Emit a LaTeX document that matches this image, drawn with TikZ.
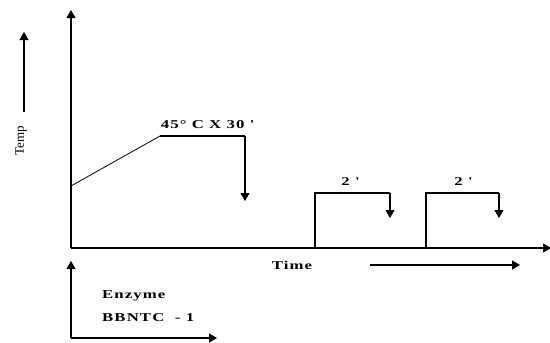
\documentclass[tikz,border=0pt]{standalone}
\usepackage{fontspec}
\setmainfont{Liberation Serif}
\newfontfamily\lblfont[FakeStretch=1.4,LetterSpace=9]{Liberation Serif}
\usetikzlibrary{arrows.meta}
\begin{document}
\begin{tikzpicture}[x=1pt,y=-1pt,
  ln/.style={line width=1.1pt},
  arr/.style={ln,-{Triangle[width=9pt,length=8pt]}},
  lbl/.style={font=\lblfont\fontsize{12}{13}\selectfont\bfseries, inner sep=0pt}]
\useasboundingbox (0,0) rectangle (550,343);
% axes
\coordinate (O) at (71,248);
\coordinate (Ytop) at (71,10);
\coordinate (Xend) at (551,248);
\draw[arr] (O) -- (Ytop);
\draw[arr] (O) -- (Xend);
% Temp label and arrow
\coordinate (ta) at (24,112);
\coordinate (tb) at (24,32);
\draw[arr] (ta) -- (tb);
\node[rotate=90, font=\fontsize{13}{14}\selectfont, inner sep=0pt] (temp) at (21,141) {Temp};
% ramp and hold
\coordinate (r0) at (71,186);
\coordinate (r1) at (160,136);
\coordinate (r2) at (245,136);
\coordinate (r3) at (245,201);
\draw[line width=0.8pt] (r0) -- (r1);
\draw[ln] (r1) -- (r2);
\draw[arr] (r2) -- (r3);
\node[lbl] (hold) at (207,125) {45° C X 30 \textquotesingle};
% pulse 1
\coordinate (p1a) at (315,248);
\coordinate (p1b) at (315,193);
\coordinate (p1c) at (390,193);
\coordinate (p1d) at (390,218);
\draw[ln] (p1a) -- (p1b) -- (p1c);
\draw[arr] (p1c) -- (p1d);
\node[lbl] (two1) at (350,182) {2 \textquotesingle};
% pulse 2
\coordinate (p2a) at (426,248);
\coordinate (p2b) at (426,193);
\coordinate (p2c) at (499,193);
\coordinate (p2d) at (499,218);
\draw[ln] (p2a) -- (p2b) -- (p2c);
\draw[arr] (p2c) -- (p2d);
\node[lbl] (two2) at (463,182) {2 \textquotesingle};
% time label and arrow
\node[lbl] (time) at (292,265) {Time};
\coordinate (t1) at (370,265);
\coordinate (t2) at (520,265);
\draw[arr] (t1) -- (t2);
% bottom small axes
\coordinate (b0) at (71,338);
\coordinate (bt) at (71,261);
\coordinate (br) at (217,338);
\draw[arr] (b0) -- (bt);
\draw[arr] (b0) -- (br);
\node[lbl, anchor=west] (enz) at (102,296) {Enzyme};
\node[lbl, anchor=west] (bb) at (102,318) {BBNTC\ \ - 1};
\end{tikzpicture}
\end{document}
